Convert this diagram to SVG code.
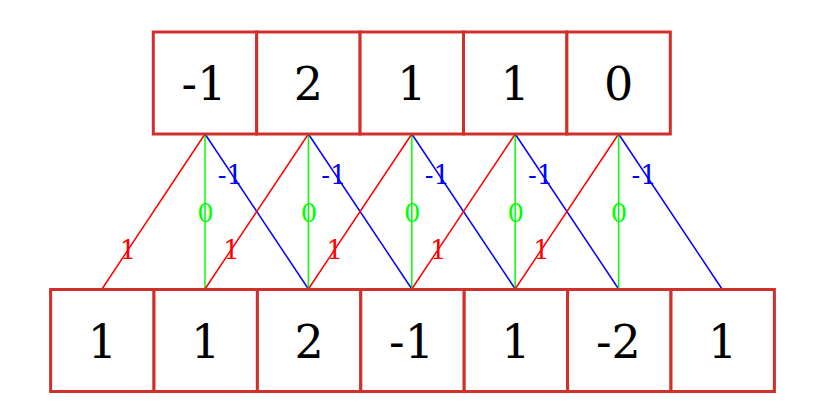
<svg xmlns="http://www.w3.org/2000/svg" width="813" height="413" viewBox="0 0 813 413">
<style>
.box{fill:#fff;stroke:#d1302a;stroke-width:3}
.num{font-family:"DejaVu Serif","Liberation Serif",serif;font-size:46px;text-anchor:middle;fill:#000}
.lbl{font-family:"DejaVu Serif","Liberation Serif",serif;font-size:26px;text-anchor:middle}
.r{stroke:#ff0000;stroke-width:1.5;fill:none}
.g{stroke:#00ff00;stroke-width:1.5;fill:none}
.b{stroke:#0000ff;stroke-width:1.5;fill:none}
</style>
<rect width="813" height="413" fill="#fff"/>
<g id="connectors">
<line class="r" x1="205" y1="134" x2="102" y2="289"/><line class="g" x1="205" y1="134" x2="205" y2="289"/><line class="b" x1="205" y1="134" x2="308.4" y2="289"/>
<line class="r" x1="308.4" y1="134" x2="205" y2="289"/><line class="g" x1="308.4" y1="134" x2="308.4" y2="289"/><line class="b" x1="308.4" y1="134" x2="411.8" y2="289"/>
<line class="r" x1="411.8" y1="134" x2="308.4" y2="289"/><line class="g" x1="411.8" y1="134" x2="411.8" y2="289"/><line class="b" x1="411.8" y1="134" x2="515.2" y2="289"/>
<line class="r" x1="515.2" y1="134" x2="411.8" y2="289"/><line class="g" x1="515.2" y1="134" x2="515.2" y2="289"/><line class="b" x1="515.2" y1="134" x2="618.6" y2="289"/>
<line class="r" x1="618.6" y1="134" x2="515.2" y2="289"/><line class="g" x1="618.6" y1="134" x2="618.6" y2="289"/><line class="b" x1="618.6" y1="134" x2="722" y2="289"/>
<g class="lbl" fill="#ff0000">
<text x="128" y="259">1</text><text x="231.4" y="259">1</text><text x="334.8" y="259">1</text><text x="438.2" y="259">1</text><text x="541.6" y="259">1</text>
</g>
<g class="lbl" fill="#00ff00">
<text x="205.5" y="222">0</text><text x="308.9" y="222">0</text><text x="412.3" y="222">0</text><text x="515.7" y="222">0</text><text x="619.1" y="222">0</text>
</g>
<g class="lbl" fill="#0000ff">
<text x="230.5" y="184">-1</text><text x="333.9" y="184">-1</text><text x="437.3" y="184">-1</text><text x="540.7" y="184">-1</text><text x="644.1" y="184">-1</text>
</g>
</g>
<g id="top0"><rect class="box" x="153.3" y="32" width="103.4" height="102"/><text class="num" x="204" y="100">-1</text></g>
<g id="top1"><rect class="box" x="256.7" y="32" width="103.4" height="102"/><text class="num" x="308.4" y="100">2</text></g>
<g id="top2"><rect class="box" x="360.1" y="32" width="103.4" height="102"/><text class="num" x="411.8" y="100">1</text></g>
<g id="top3"><rect class="box" x="463.5" y="32" width="103.4" height="102"/><text class="num" x="515.2" y="100">1</text></g>
<g id="top4"><rect class="box" x="566.9" y="32" width="103.4" height="102"/><text class="num" x="618.6" y="100">0</text></g>
<g id="bot0"><rect class="box" x="50.6" y="289.5" width="103.4" height="102"/><text class="num" x="102.3" y="357.5">1</text></g>
<g id="bot1"><rect class="box" x="154" y="289.5" width="103.4" height="102"/><text class="num" x="205.7" y="357.5">1</text></g>
<g id="bot2"><rect class="box" x="257.4" y="289.5" width="103.4" height="102"/><text class="num" x="309.1" y="357.5">2</text></g>
<g id="bot3"><rect class="box" x="360.8" y="289.5" width="103.4" height="102"/><text class="num" x="411.5" y="357.5">-1</text></g>
<g id="bot4"><rect class="box" x="464.2" y="289.5" width="103.4" height="102"/><text class="num" x="515.9" y="357.5">1</text></g>
<g id="bot5"><rect class="box" x="567.6" y="289.5" width="103.4" height="102"/><text class="num" x="618.3" y="357.5">-2</text></g>
<g id="bot6"><rect class="box" x="671" y="289.5" width="103.4" height="102"/><text class="num" x="722.7" y="357.5">1</text></g>
</svg>
